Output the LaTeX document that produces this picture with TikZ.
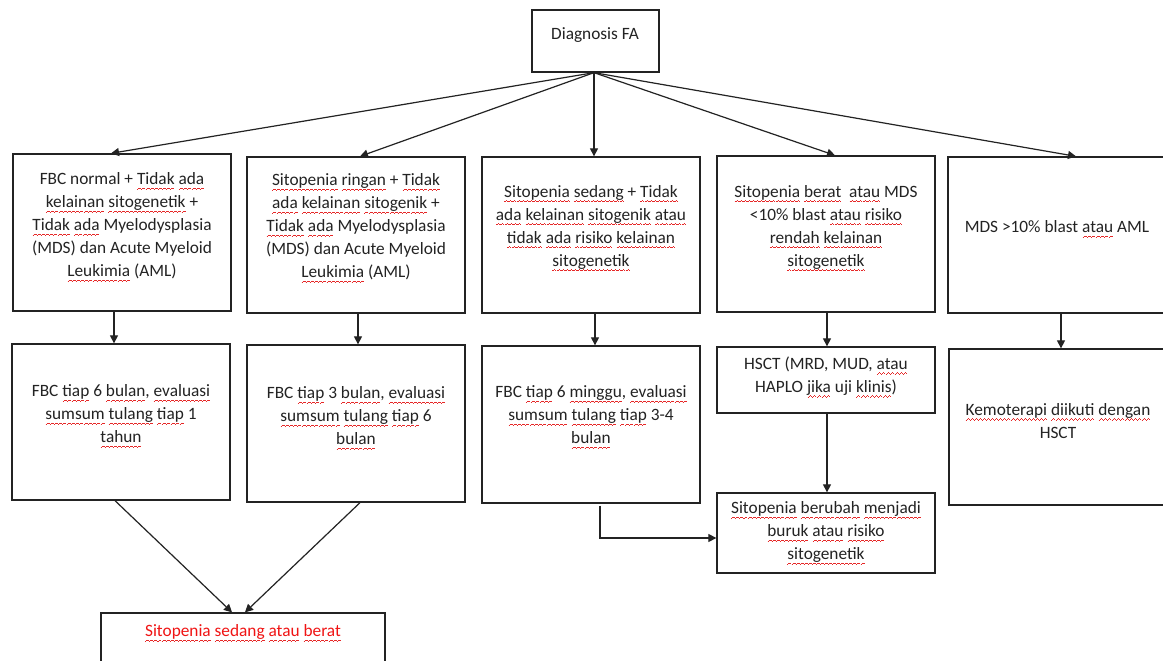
\documentclass[tikz,border=0pt]{standalone}
\usepackage{fontspec}
\setmainfont{Carlito}
\usetikzlibrary{arrows.meta,fit}
\definecolor{ink}{RGB}{35,35,35}
\definecolor{redtxt}{RGB}{240,20,20}
\definecolor{sqred}{RGB}{230,40,40}
\newsavebox\sqbox
\newcommand\wavelet{\rule[-4.9pt]{1pt}{0.7pt}\rule[-4.3pt]{1pt}{0.7pt}\rule[-3.7pt]{1pt}{0.7pt}\rule[-4.3pt]{1pt}{0.7pt}}
\newcommand\sq[1]{\sbox\sqbox{#1}\rlap{\color{sqred}\hbox to \wd\sqbox{\xleaders\hbox{\wavelet}\hfil}}\usebox\sqbox}
\begin{document}
\begin{tikzpicture}[x=1pt,y=-1pt,
  box/.style={draw=ink, line width=1.3pt, inner sep=0pt},
  txt/.style={font=\fontsize{17.3}{23}\selectfont, align=center, text=ink, inner sep=0pt},
  arr/.style={draw=ink, line width=1.2pt, -{Triangle[length=8pt,width=8pt]}}]
\path[use as bounding box] (0,0) rectangle (1163,661);
\clip (0,0) rectangle (1163,661);
\fill[white] (0,0) rectangle (1163,661);

% boxes
\node[box, fit={(532,10) (659,72)}] (dfa) {};
\node[box, fit={(13,154) (231,311)}] (b1) {};
\node[box, fit={(247,157) (465,313)}] (b2) {};
\node[box, fit={(482,157) (700,313)}] (b3) {};
\node[box, fit={(717,156) (935,312)}] (b4) {};
\node[box, fit={(948,157) (1166,313)}] (b5) {};
\node[box, fit={(12,344) (230,500)}] (bA) {};
\node[box, fit={(247,345) (465,502)}] (bB) {};
\node[box, fit={(482,346) (700,503)}] (bC) {};
\node[box, fit={(717,347) (935,413)}] (bD) {};
\node[box, fit={(949,349) (1167,505)}] (bE) {};
\node[box, fit={(717,493) (935,573)}] (bF) {};
\node[box, fit={(101,613) (385,690)}] (bG) {};

% texts
\node[txt] (tdfa) at (595,35) {Diagnosis FA};
\node[txt] (t1) at (122,227) {FBC normal + \sq{Tidak} \sq{ada}\\\sq{kelainan} \sq{sitogenetik} +\\\sq{Tidak} \sq{ada} Myelodysplasia\\(MDS) dan Acute Myeloid\\\sq{Leukimia} (AML)};
\node[txt] (t2) at (356,228) {\sq{Sitopenia} \sq{ringan} + \sq{Tidak}\\\sq{ada} \sq{kelainan} \sq{sitogenik} +\\\sq{Tidak} \sq{ada} Myelodysplasia\\(MDS) dan Acute Myeloid\\\sq{Leukimia} (AML)};
\node[txt] (t3) at (591,228) {\sq{Sitopenia} \sq{sedang} + \sq{Tidak}\\\sq{ada} \sq{kelainan} \sq{sitogenik} \sq{atau}\\\sq{tidak} \sq{ada} \sq{risiko} \sq{kelainan}\\\sq{sitogenetik}};
\node[txt] (t4) at (826,228) {\sq{Sitopenia} \sq{berat}\ \ \sq{atau} MDS\\<10\% blast \sq{atau} \sq{risiko}\\\sq{rendah} \sq{kelainan}\\\sq{sitogenetik}};
\node[txt] (t5) at (1057,229) {MDS >10\% blast \sq{atau} AML};
\node[txt] (tA) at (121,416) {FBC \sq{tiap} 6 \sq{bulan}, \sq{evaluasi}\\\sq{sumsum} \sq{tulang} \sq{tiap} 1\\\sq{tahun}};
\node[txt] (tB) at (356,418) {FBC \sq{tiap} 3 \sq{bulan}, \sq{evaluasi}\\\sq{sumsum} \sq{tulang} \sq{tiap} 6\\\sq{bulan}};
\node[txt] (tC) at (591,417) {FBC \sq{tiap} 6 \sq{minggu}, \sq{evaluasi}\\\sq{sumsum} \sq{tulang} \sq{tiap} 3-4\\\sq{bulan}};
\node[txt] (tD) at (826,377) {HSCT (MRD, MUD, \sq{atau}\\HAPLO \sq{jika} uji \sq{klinis})};
\node[txt] (tE) at (1058,421) {\sq{Kemoterapi} \sq{diikuti} \sq{dengan}\\HSCT};
\node[txt] (tF) at (826,533) {\sq{Sitopenia} \sq{berubah} \sq{menjadi}\\\sq{buruk} \sq{atau} \sq{risiko}\\\sq{sitogenetik}};
\node[txt, text=redtxt] (tG) at (243,633) {\sq{Sitopenia} \sq{sedang} \sq{atau} \sq{berat}};

% connectors from Diagnosis FA
\draw[arr] ([xshift=-1.5pt]dfa.south) -- ([xshift=-11pt]b1.north);
\draw[arr] ([xshift=-1.5pt]dfa.south) -- ([xshift=4pt]b2.north);
\draw[arr] ([xshift=-1.5pt]dfa.south) -- ([xshift=3pt]b3.north);
\draw[arr] ([xshift=-1.5pt]dfa.south) -- ([xshift=9pt]b4.north);
\draw[arr] ([xshift=-1.5pt]dfa.south) -- ([xshift=19pt]b5.north);

% row 1 to row 2
\draw[arr] ([xshift=-8pt]b1.south) -- ([xshift=-7pt]bA.north);
\draw[arr] ([xshift=2pt]b2.south) -- ([xshift=2pt]bB.north);
\draw[arr] ([xshift=4pt]b3.south) -- ([xshift=4pt]bC.north);
\draw[arr] ([xshift=1pt]b4.south) -- ([xshift=1pt]bD.north);
\draw[arr] ([xshift=4pt]b5.south) -- ([xshift=3pt]bE.north);

% lower connectors
\draw[arr] ([xshift=1pt]bD.south) -- ([xshift=1pt]bF.north);
\draw[arr] ([xshift=9pt,yshift=-2pt]bC.south) |- ([yshift=-5pt]bF.west);
\draw[arr] ([xshift=-6pt]bA.south) -- ([xshift=-11pt]bG.north);
\draw[arr] ([xshift=4pt]bB.south) -- ([xshift=2pt]bG.north);
\end{tikzpicture}
\end{document}
